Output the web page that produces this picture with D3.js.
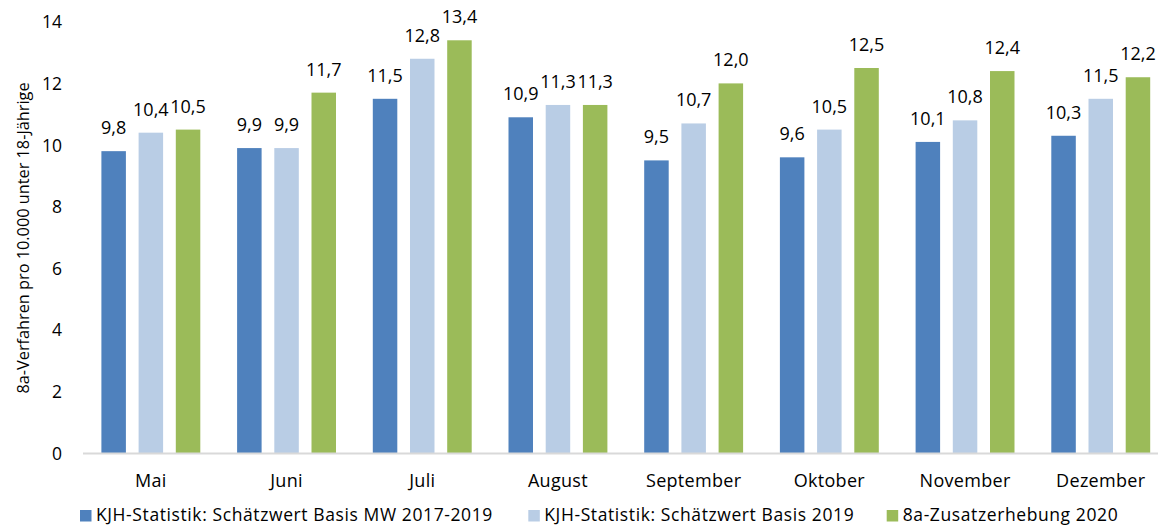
<!DOCTYPE html>
<html><head><meta charset="utf-8">
<script src="https://cdn.jsdelivr.net/npm/d3@7"></script>
<style>
html,body{margin:0;padding:0;background:#fff;overflow:hidden}
text{font-family:"Open Sans",sans-serif;fill:#000}
</style></head>
<body>
<svg id="c" width="1158" height="526"></svg>
<script>
const months = ["Mai","Juni","Juli","August","September","Oktober","November","Dezember"];
const seriesNames = ["KJH-Statistik: Schätzwert Basis MW 2017-2019","KJH-Statistik: Schätzwert Basis 2019","8a-Zusatzerhebung 2020"];
const mw2017_2019 = [9.8, 9.9, 11.5, 10.9, 9.5, 9.6, 10.1, 10.3];
const basis2019   = [10.4, 9.9, 12.8, 11.3, 10.7, 10.5, 10.8, 11.5];
const zusatz2020  = [10.5, 11.7, 13.4, 11.3, 12.0, 12.5, 12.4, 12.2];
const yTicks = [0,2,4,6,8,10,12,14];
const colors = ["#4f81bd","#b9cde5","#9bbb59"];

const series = [mw2017_2019, basis2019, zusatz2020];
const svg = d3.select("#c");
const fmt = v => d3.format(".1f")(v).replace(".", ",");

const x = d3.scaleBand().domain(months).range([83, 1168.6]).paddingInner(0).paddingOuter(0);
const y = d3.scaleLinear().domain([0,14]).range([453, 21.8]);
const barW = 24.5, barStep = 37.2;
const groupW = 2*barStep + barW;
const xs = d3.scaleLinear().domain([0,2]).range([0, 2*barStep]);

// y tick labels
svg.append("g").selectAll("text").data(yTicks).join("text")
  .attr("x", 62).attr("y", d => y(d) + 6.5)
  .attr("text-anchor","end").style("font-size","17.5px")
  .text(d => d);

// y axis title
svg.append("text")
  .attr("transform","translate(29,238) rotate(-90)")
  .attr("text-anchor","middle").style("font-size","16.3px")
  .text("8a-Verfahren pro 10.000 unter 18-Jährige");

// bars
const data = [];
months.forEach((m,i) => series.forEach((s,j) => data.push({m, j, v:s[i]})));
const gStart = m => x(m) + (x.bandwidth() - groupW)/2;

svg.append("g").selectAll("rect").data(data).join("rect")
  .attr("x", d => gStart(d.m) + xs(d.j))
  .attr("width", barW)
  .attr("y", d => y(d.v))
  .attr("height", d => y(0) - y(d.v))
  .attr("fill", d => colors[d.j]);

// baseline
svg.append("line").attr("x1",83).attr("x2",1168.6).attr("y1",y(0)+0.5).attr("y2",y(0)+0.5)
  .attr("stroke","#d9d9d9").attr("stroke-width",2);

// value labels
svg.append("g").selectAll("text").data(data).join("text")
  .attr("x", d => gStart(d.m) + xs(d.j) + barW/2)
  .attr("y", d => y(d.v) - 17)
  .attr("text-anchor","middle").style("font-size","18px")
  .text(d => fmt(d.v));

// category labels
svg.append("g").selectAll("text").data(months).join("text")
  .attr("x", d => x(d) + x.bandwidth()/2)
  .attr("y", 487)
  .attr("text-anchor","middle").style("font-size","18px").style("letter-spacing","0.3px")
  .text(d => d);

// legend
const legX = [80, 528.3, 886.7];
const leg = svg.append("g").selectAll("g").data(seriesNames).join("g")
  .attr("transform", (d,i) => `translate(${legX[i]},510)`);
leg.append("rect").attr("width",11.5).attr("height",11.5).attr("fill",(d,i)=>colors[i]);
leg.append("text").attr("x",16).attr("y",11).style("font-size","17.5px").style("letter-spacing","0.6px").text(d=>d);
</script>
</body></html>
